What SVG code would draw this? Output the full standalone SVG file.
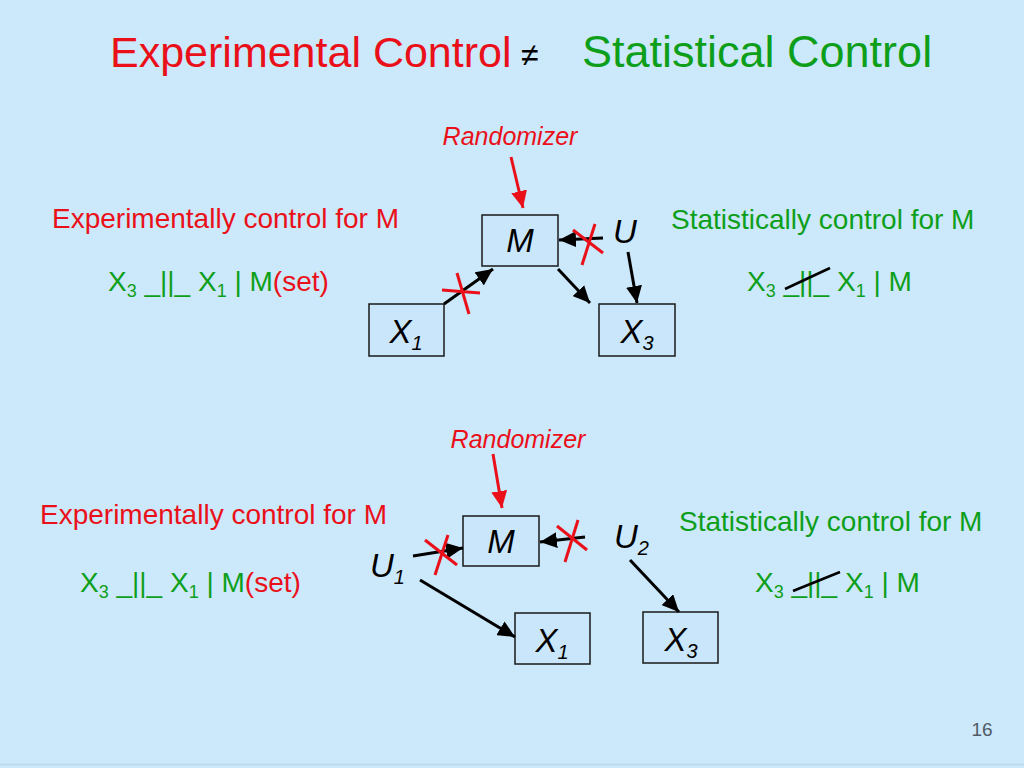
<svg xmlns="http://www.w3.org/2000/svg" width="1024" height="768" viewBox="0 0 1024 768">
<style>
text{font-family:"Liberation Sans",Arial,sans-serif}
.red{fill:#EA1019}
.grn{fill:#0E9F1A}
.lbl{font-size:28px}
.rnd{font-size:25px;font-style:italic;fill:#EA1019}
.node rect{fill:#C9E6FA;stroke:#1a1a1a;stroke-width:1.5}
.nt{font-size:33px;font-style:italic;fill:#000}
.conn line{stroke:#000;stroke-width:3}
.conn line.r{stroke:#EA1019}
.cross line{stroke:#EA1019;stroke-width:3}
</style>
<defs>
<marker id="ah" markerUnits="userSpaceOnUse" markerWidth="18" markerHeight="16" refX="17" refY="8" orient="auto">
<path d="M0,0 L17,8 L0,16 z" fill="#000"/>
</marker>
<marker id="ahr" markerUnits="userSpaceOnUse" markerWidth="18" markerHeight="16" refX="17" refY="8" orient="auto">
<path d="M0,0 L17,8 L0,16 z" fill="#EA1019"/>
</marker>
</defs>
<rect width="1024" height="768" fill="#CCE8FB"/>
<line x1="0" y1="764.5" x2="1024" y2="764.5" stroke="#B9D8EC" stroke-width="1.5"/>

<g id="title">
<text x="110" y="67" class="red" font-size="43">Experimental Control</text>
<text x="521" y="66" fill="#000" font-size="32" font-style="italic">≠</text>
<text x="582" y="67" class="grn" font-size="45">Statistical Control</text>
</g>

<!-- top section texts -->
<g id="top-texts">
<text x="52" y="228" class="lbl red">Experimentally control for M</text>
<text x="108" y="291" class="lbl grn">X<tspan font-size="18" dy="6">3</tspan><tspan dy="-6"> _||_ X</tspan><tspan font-size="18" dy="6">1</tspan><tspan dy="-6"> | M</tspan><tspan class="red">(set)</tspan></text>
<text x="671" y="229" class="lbl grn">Statistically control for M</text>
<text x="747" y="291" class="lbl grn">X<tspan font-size="18" dy="6">3</tspan><tspan dy="-6"> _||_ X</tspan><tspan font-size="18" dy="6">1</tspan><tspan dy="-6"> | M</tspan></text>
<line x1="785" y1="289" x2="830" y2="268" stroke="#000" stroke-width="2.5"/>
<text x="510" y="145" text-anchor="middle" class="rnd">Randomizer</text>
<text x="625" y="243" text-anchor="middle" class="nt">U</text>
</g>

<g id="top-M" class="node">
<rect x="482" y="215" width="76" height="51"/>
<text x="520" y="252" text-anchor="middle" class="nt">M</text>
</g>
<g id="top-X1" class="node">
<rect x="369" y="304" width="75" height="52"/>
<text x="406" y="343" text-anchor="middle" class="nt">X<tspan font-size="20" dy="7">1</tspan></text>
</g>
<g id="top-X3" class="node">
<rect x="599" y="304" width="76" height="52"/>
<text x="637" y="343" text-anchor="middle" class="nt">X<tspan font-size="20" dy="7">3</tspan></text>
</g>

<g id="top-connectors" class="conn">
<line class="r" x1="511" y1="157" x2="523" y2="208" marker-end="url(#ahr)"/>
<line x1="444" y1="304" x2="493" y2="269" marker-end="url(#ah)"/>
<line x1="558" y1="269" x2="590" y2="303" marker-end="url(#ah)"/>
<line x1="603" y1="238" x2="559" y2="240" marker-end="url(#ah)"/>
<line x1="628" y1="252" x2="637" y2="303" marker-end="url(#ah)"/>
</g>
<g id="top-crosses" class="cross">
<line x1="442" y1="290" x2="480" y2="293"/>
<line x1="457" y1="273" x2="469" y2="314"/>
<line x1="573" y1="230" x2="603" y2="253"/>
<line x1="595" y1="224" x2="582" y2="265"/>
</g>

<!-- bottom section -->
<g id="bottom-texts">
<text x="40" y="524" class="lbl red">Experimentally control for M</text>
<text x="80" y="592" class="lbl grn">X<tspan font-size="18" dy="6">3</tspan><tspan dy="-6"> _||_ X</tspan><tspan font-size="18" dy="6">1</tspan><tspan dy="-6"> | M</tspan><tspan class="red">(set)</tspan></text>
<text x="679" y="531" class="lbl grn">Statistically control for M</text>
<text x="755" y="592" class="lbl grn">X<tspan font-size="18" dy="6">3</tspan><tspan dy="-6"> _||_ X</tspan><tspan font-size="18" dy="6">1</tspan><tspan dy="-6"> | M</tspan></text>
<line x1="793" y1="591" x2="840" y2="572" stroke="#000" stroke-width="2.5"/>
<text x="518" y="448" text-anchor="middle" class="rnd">Randomizer</text>
<text x="370" y="577" class="nt">U<tspan font-size="20" dy="7">1</tspan></text>
<text x="614" y="548" class="nt">U<tspan font-size="20" dy="7">2</tspan></text>
</g>

<g id="bot-M" class="node">
<rect x="463" y="516" width="76" height="50"/>
<text x="501" y="553" text-anchor="middle" class="nt">M</text>
</g>
<g id="bot-X1" class="node">
<rect x="515" y="613" width="75" height="51"/>
<text x="552" y="652" text-anchor="middle" class="nt">X<tspan font-size="20" dy="7">1</tspan></text>
</g>
<g id="bot-X3" class="node">
<rect x="643" y="612" width="75" height="51"/>
<text x="681" y="651" text-anchor="middle" class="nt">X<tspan font-size="20" dy="7">3</tspan></text>
</g>

<g id="bottom-connectors" class="conn">
<line class="r" x1="493" y1="454" x2="502" y2="508" marker-end="url(#ahr)"/>
<line x1="413" y1="556" x2="463" y2="548" marker-end="url(#ah)"/>
<line x1="420" y1="580" x2="515" y2="637" marker-end="url(#ah)"/>
<line x1="585" y1="537" x2="540" y2="542" marker-end="url(#ah)"/>
<line x1="630" y1="560" x2="679" y2="612" marker-end="url(#ah)"/>
</g>
<g id="bottom-crosses" class="cross">
<line x1="425" y1="540" x2="457" y2="565"/>
<line x1="448" y1="535" x2="435" y2="575"/>
<line x1="557" y1="526" x2="587" y2="550"/>
<line x1="578" y1="520" x2="565" y2="562"/>
</g>

<text x="982" y="736" text-anchor="middle" font-size="19" fill="#4F5B66">16</text>
</svg>
